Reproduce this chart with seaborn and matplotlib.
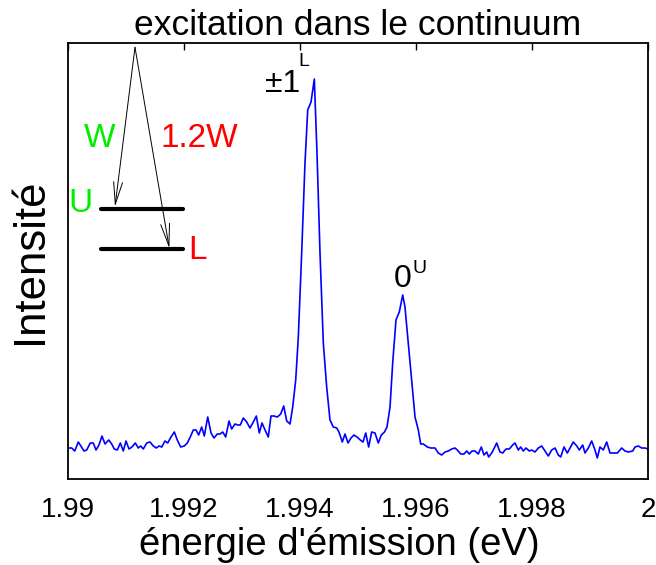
import numpy as np
import pandas as pd
import matplotlib
matplotlib.use("Agg")
import matplotlib.pyplot as plt
import seaborn as sns
from matplotlib.patches import FancyArrowPatch

# emission energy, in meV above 1.99 eV
energy_mev = [
    0.000, 0.064, 0.116, 0.178, 0.276, 0.322, 0.384, 0.436, 0.483, 0.534,
    0.586, 0.638, 0.702, 0.753, 0.798, 0.850, 0.902, 0.953, 1.000, 1.052,
    1.103, 1.160, 1.212, 1.253, 1.298, 1.357, 1.414, 1.471, 1.522, 1.569,
    1.616, 1.672, 1.719, 1.776, 1.833, 1.884, 1.943, 2.005, 2.057, 2.116,
    2.160, 2.207, 2.253, 2.305, 2.350, 2.409, 2.466, 2.517, 2.574, 2.621,
    2.667, 2.719, 2.776, 2.822, 2.879, 2.926, 2.971, 3.022, 3.081, 3.138,
    3.195, 3.247, 3.298, 3.345, 3.397, 3.453, 3.500, 3.552, 3.609, 3.667,
    3.719, 3.771, 3.828, 3.874, 3.926, 3.971, 4.029, 4.086, 4.133, 4.190,
    4.247, 4.293, 4.345, 4.402, 4.460, 4.517, 4.574, 4.633, 4.672, 4.729,
    4.776, 4.828, 4.879, 4.931, 4.983, 5.040, 5.086, 5.133, 5.184, 5.236,
    5.293, 5.350, 5.402, 5.457, 5.500, 5.552, 5.598, 5.655, 5.712, 5.771,
    5.810, 5.867, 5.926, 5.983, 6.040, 6.081, 6.126, 6.195, 6.253, 6.328,
    6.384, 6.443, 6.500, 6.557, 6.616, 6.672, 6.712, 6.771, 6.828, 6.874,
    6.919, 6.966, 7.017, 7.074, 7.126, 7.172, 7.219, 7.253, 7.305, 7.350,
    7.391, 7.448, 7.495, 7.552, 7.609, 7.667, 7.707, 7.764, 7.805, 7.850,
    7.897, 7.953, 7.995, 8.052, 8.109, 8.167, 8.224, 8.281, 8.340, 8.397,
    8.453, 8.495, 8.552, 8.609, 8.655, 8.712, 8.772, 8.816, 8.874, 8.914,
    8.971, 9.029, 9.086, 9.126, 9.172, 9.229, 9.288, 9.345, 9.402, 9.471,
    9.547, 9.603, 9.660, 9.736, 9.776, 9.833, 9.891, 9.948, 10.000,
]

# intensity, arbitrary units
intensity = [
    31, 31, 28, 37, 28, 29, 36, 36, 29, 34,
    43, 35, 39, 35, 30, 29, 36, 28, 38, 30,
    32, 36, 31, 33, 30, 36, 37, 33, 31, 33,
    32, 38, 36, 42, 47, 39, 32, 33, 36, 43,
    49, 49, 44, 52, 43, 62, 46, 41, 45, 45,
    47, 42, 58, 50, 55, 54, 54, 61, 57, 51,
    57, 63, 46, 56, 49, 42, 63, 63, 62, 65,
    73, 58, 55, 72, 99, 142, 226, 316, 369, 377,
    400, 326, 226, 136, 92, 59, 52, 51, 47, 37,
    45, 36, 41, 44, 42, 39, 37, 46, 32, 47,
    46, 36, 44, 47, 52, 72, 116, 159, 167, 184,
    172, 136, 99, 62, 49, 35, 35, 32, 31, 31,
    26, 24, 27, 28, 30, 31, 29, 25, 25, 28,
    25, 28, 28, 25, 32, 24, 27, 22, 26, 31,
    36, 27, 26, 30, 30, 34, 36, 29, 32, 28,
    31, 28, 29, 27, 31, 33, 28, 23, 29, 31,
    24, 22, 32, 26, 31, 37, 33, 29, 34, 26,
    31, 38, 29, 21, 32, 29, 37, 26, 26, 26,
    31, 28, 27, 28, 32, 33, 31, 31, 30,
]

tick_values = [1.99, 1.992, 1.994, 1.996, 1.998, 2.0]
tick_labels = ["1.99", "1.992", "1.994", "1.996", "1.998", "2"]

df = pd.DataFrame({"energie": 1.99 + np.array(energy_mev) / 1000.0,
                   "intensite": intensity})

sns.set_style("white")
plt.rcParams["font.family"] = ["Liberation Sans", "DejaVu Sans"]
plt.rcParams["text.color"] = "black"
plt.rcParams["axes.labelcolor"] = "black"
plt.rcParams["xtick.color"] = "black"

fig = plt.figure(figsize=(6.56, 5.65), dpi=100)
ax = fig.add_axes([68 / 656, 86 / 565, 580 / 656, 436 / 565])

sns.lineplot(data=df, x="energie", y="intensite", color="#0000ff",
             linewidth=1.2, ax=ax)

ax.set_xlim(1.99, 2.0)
ax.set_ylim(0, 436)
ax.set_xticks(tick_values)
ax.set_xticklabels(tick_labels, fontsize=20)
ax.set_yticks([])
ax.tick_params(axis="x", direction="in", top=True, length=5, width=1,
               color="black", pad=13)
for sp in ax.spines.values():
    sp.set_visible(True)
    sp.set_color("black")
    sp.set_linewidth(1.3)

ax.set_xlabel("énergie d'émission (eV)", fontsize=27.5)
ax.xaxis.set_label_coords(0.467, -0.110, transform=ax.transAxes)
ax.xaxis.label.set_va("top")
ax.set_ylabel("Intensité", fontsize=31.5, labelpad=12)
ax.set_title("excitation dans le continuum", fontsize=25.5, pad=6)

# peak labels
tr = ax.transAxes
ax.text(0.3707, 0.8876, "±1", fontsize=23, ha="center", va="baseline", transform=tr)
ax.text(0.3965, 0.9480, "L", fontsize=14, ha="left", va="baseline", transform=tr)
ax.text(0.5776, 0.4404, "0", fontsize=23, ha="center", va="baseline", transform=tr)
ax.text(0.5945, 0.4720, "U", fontsize=14, ha="left", va="baseline", transform=tr)

# level scheme
ax.plot([0.0569, 0.1983], [0.6186, 0.6186], color="black", lw=3, transform=tr)
ax.plot([0.0569, 0.1983], [0.5268, 0.5268], color="black", lw=3, transform=tr)
for end in [(0.0810, 0.6245), (0.1747, 0.5291)]:
    arr = FancyArrowPatch((0.1155, 0.9901), end, transform=tr,
                          arrowstyle="->,head_length=0.8,head_width=0.16",
                          mutation_scale=20, color="black", lw=0.7,
                          shrinkA=0, shrinkB=0)
    ax.add_patch(arr)
ax.text(0.0552, 0.780, "W", fontsize=24, color="#00ee00", ha="center", va="center", transform=tr)
ax.text(0.2259, 0.780, "1.2W", fontsize=24, color="#ff0000", ha="center", va="center", transform=tr)
ax.text(0.0207, 0.631, "U", fontsize=24, color="#00ee00", ha="center", va="center", transform=tr)
ax.text(0.2233, 0.525, "L", fontsize=24, color="#ff0000", ha="center", va="center", transform=tr)

fig.savefig("out.png", dpi=100)
